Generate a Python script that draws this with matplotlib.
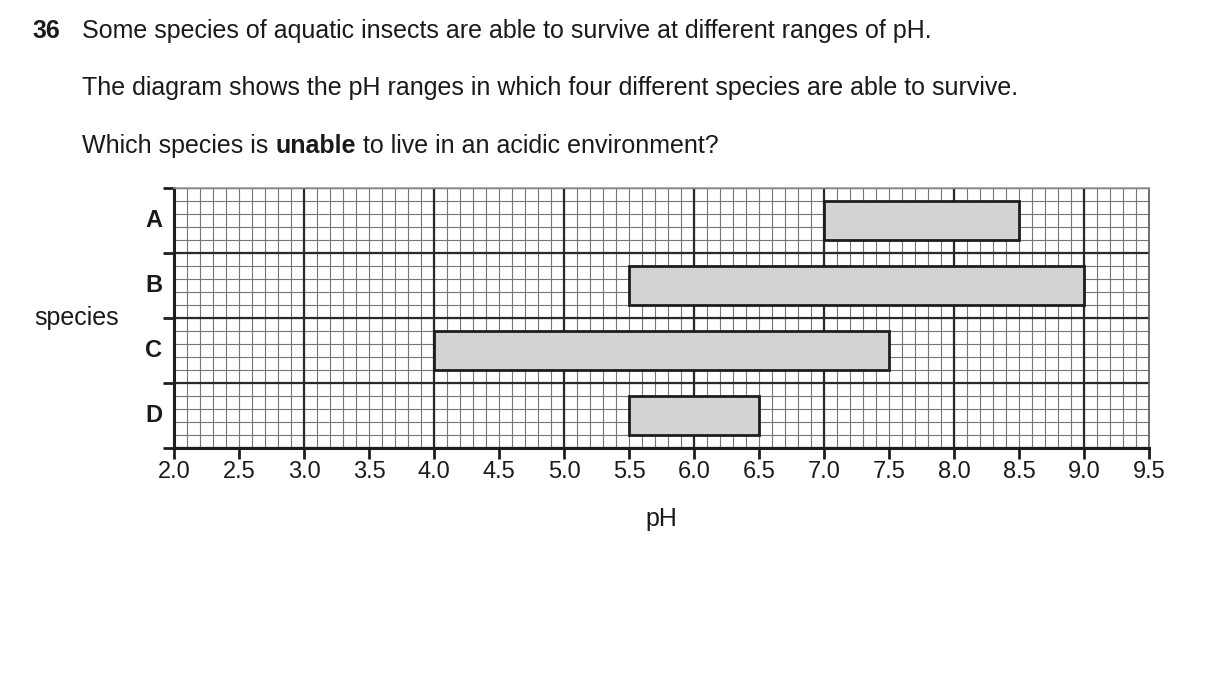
import matplotlib.pyplot as plt
import numpy as np

plt.rcParams['font.family'] = ['Liberation Sans', 'DejaVu Sans']

# data
species = ["A", "B", "C", "D"]
ph_low = [7.0, 5.5, 4.0, 5.5]
ph_high = [8.5, 9.0, 7.5, 6.5]
x_ticks = [2.0, 2.5, 3.0, 3.5, 4.0, 4.5, 5.0, 5.5, 6.0, 6.5, 7.0, 7.5, 8.0, 8.5, 9.0, 9.5]

W, H = 1209, 683
fig = plt.figure(figsize=(W / 100, H / 100), dpi=100)
txt_col = "#1a1a1a"
fs = 18


def px(x, y):
    return x / W, 1 - y / H


# question text
fig.text(*px(32, 31), "36", fontsize=fs, fontweight="bold", va="center", color=txt_col)
fig.text(*px(82, 31), "Some species of aquatic insects are able to survive at different ranges of pH.",
         fontsize=fs, va="center", color=txt_col)
fig.text(*px(82, 88), "The diagram shows the pH ranges in which four different species are able to survive.",
         fontsize=fs, va="center", color=txt_col)
t = fig.text(*px(82, 146), "Which species is ", fontsize=fs, va="center", color=txt_col)
fig.canvas.draw()
bb = t.get_window_extent()
t2 = fig.text(bb.x1 / W, 1 - 146 / H, "unable", fontsize=fs, fontweight="bold", va="center", color=txt_col)
fig.canvas.draw()
bb2 = t2.get_window_extent()
fig.text(bb2.x1 / W, 1 - 146 / H, " to live in an acidic environment?", fontsize=fs, va="center", color=txt_col)

# chart area
left, right, top, bottom = 174, 1149, 188, 448
ax = fig.add_axes([left / W, 1 - bottom / H, (right - left) / W, (bottom - top) / H])
ax.set_xlim(2.0, 9.5)
ax.set_ylim(4, 0)

n = len(species)
# minor grid
for xv in np.arange(2.0, 9.51, 0.1):
    ax.axvline(xv, color="#757575", lw=0.8, zorder=1)
for yv in np.arange(0, n + 0.01, 0.2):
    ax.axhline(yv, color="#757575", lw=0.8, zorder=1)
# major grid
for xv in np.arange(2.0, 9.51, 1.0):
    ax.axvline(xv, color="#2a2a2a", lw=1.6, zorder=2)
for yv in range(n + 1):
    ax.axhline(yv, color="#2a2a2a", lw=1.6, zorder=2)

# bars
for i, (lo, hi) in enumerate(zip(ph_low, ph_high)):
    ax.barh(i + 0.5, hi - lo, left=lo, height=0.6, color="#d1d3d4",
            edgecolor="#1e1e1e", linewidth=2.0, zorder=3)

for name in ["left", "bottom"]:
    ax.spines[name].set_linewidth(2.2)
    ax.spines[name].set_color("#1e1e1e")
ax.spines["top"].set_color("#999999")
ax.spines["top"].set_linewidth(1.2)
ax.spines["right"].set_color("#555555")
ax.spines["right"].set_linewidth(1.2)

ax.set_xticks(x_ticks)
ax.set_xticklabels([f"{v:.1f}" for v in x_ticks], fontsize=17, color=txt_col)
ax.set_yticks(range(n + 1))
ax.set_yticklabels([])
ax.tick_params(axis="x", length=8, width=2, color="#1e1e1e", pad=1)
ax.tick_params(axis="y", length=8, width=2, color="#1e1e1e")

for i, s in enumerate(species):
    ax.text(-0.012, i + 0.5, s, transform=ax.get_yaxis_transform(), ha="right", va="center",
            fontsize=17, fontweight="bold", color=txt_col)

fig.text(*px(77, 318), "species", fontsize=fs, ha="center", va="center", color=txt_col)
fig.text(*px(661, 519), "pH", fontsize=fs, ha="center", va="center", color=txt_col)

fig.savefig("out.png", dpi=100)
